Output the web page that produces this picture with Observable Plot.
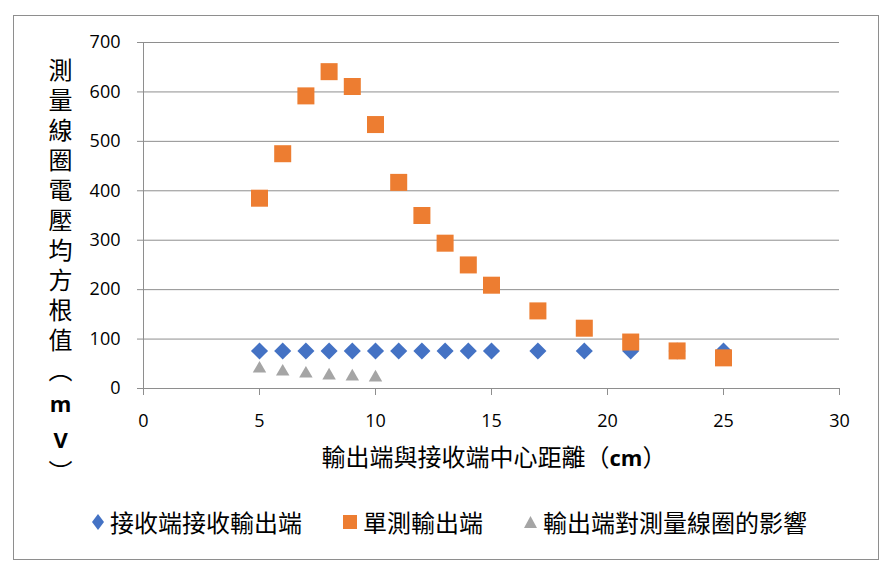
<!DOCTYPE html>
<html>
<head>
<meta charset="utf-8">
<script src="https://cdn.jsdelivr.net/npm/d3@7"></script>
<script src="https://cdn.jsdelivr.net/npm/@observablehq/plot@0.6"></script>
<style>
  html, body { margin: 0; padding: 0; background: #fff; }
  #wrap { position: relative; width: 893px; height: 571px; overflow: hidden; background: #fff; }
  #frame { position: absolute; left: 13px; top: 15px; width: 866px; height: 545px; border: 1px solid #8e8e8e; box-sizing: border-box; }
  #chart { position: absolute; left: 0; top: 0; }
  .cjk { font-family: "Noto Sans CJK TC", "Noto Sans", sans-serif; color: #000; }
  #ytitle { position: absolute; left: 47px; top: 58px; font-size: 24px; writing-mode: vertical-rl; text-orientation: upright; letter-spacing: 6px; line-height: 26px; }
  #ytitle b { font-family: "Open Sans", sans-serif; font-weight: 700; font-size: 22px; }
  #xtitle { position: absolute; left: 6px; width: 976px; top: 440px; text-align: center; font-size: 24px; line-height: 32px; white-space: nowrap; }
  #xtitle b { font-family: "Open Sans", sans-serif; font-weight: 700; font-size: 22px; }
  .leg { position: absolute; top: 506px; font-size: 24px; line-height: 32px; white-space: nowrap; display: flex; align-items: center; }
  .leg svg { margin-right: 6px; }
</style>
</head>
<body>
<div id="wrap">
  <div id="frame"></div>
  <div id="chart"></div>
  <div id="ytitle" class="cjk">測量線圈電壓均方根值（<b>mV</b>）</div>
  <div id="xtitle" class="cjk">輸出端與接收端中心距離（<b>cm</b>）</div>
  <div id="legend"></div>
</div>
<script>
// Data
const distances = [5, 6, 7, 8, 9, 10, 11, 12, 13, 14, 15, 17, 19, 21, 23, 25];
const receiverValues = [76, 76, 76, 76, 76, 76, 76, 76, 76, 76, 76, 76, 76, 76, 76, 76];
const singleValues = [385, 475, 592, 641, 611, 534, 417, 350, 294, 250, 209, 157, 122, 94, 76, 62];
const effectDistances = [5, 6, 7, 8, 9, 10];
const effectValues = [40, 34, 30, 26, 24, 22];
const seriesNames = ["接收端接收輸出端", "單測輸出端", "輸出端對測量線圈的影響"];
const seriesColors = ["#4472C4", "#ED7D31", "#A5A5A5"];
const xTicks = [0, 5, 10, 15, 20, 25, 30];
const yTicks = [0, 100, 200, 300, 400, 500, 600, 700];

const receiver = distances.map((d, i) => ({x: d, y: receiverValues[i]}));
const single = distances.map((d, i) => ({x: d, y: singleValues[i]}));
const effect = effectDistances.map((d, i) => ({x: d, y: effectValues[i]}));

const axisColor = "#8e8e8e";

const chart = Plot.plot({
  width: 893,
  height: 440,
  marginLeft: 143,
  marginRight: 54,
  marginTop: 42,
  marginBottom: 52,
  x: {domain: [0, 30]},
  y: {domain: [0, 700]},
  style: {fontFamily: "'Open Sans', sans-serif", fontSize: "18px", color: "#000", background: "transparent"},
  marks: [
    Plot.gridY(yTicks.filter(t => t > 0), {stroke: axisColor, strokeOpacity: 1, strokeWidth: 1}),
    Plot.ruleX([0], {stroke: axisColor, strokeWidth: 1}),
    Plot.ruleY([0], {stroke: axisColor, strokeWidth: 1}),
    Plot.axisY({ticks: yTicks, tickSize: 6, tickPadding: 17, label: null, stroke: axisColor, strokeOpacity: 1, fill: "#000"}),
    Plot.axisX({ticks: xTicks, tickSize: 7, tickPadding: 19, label: null, stroke: axisColor, strokeOpacity: 1, fill: "#000"}),
    Plot.dot(receiver, {x: "x", y: "y", symbol: "diamond2", r: 7.7, fill: seriesColors[0], stroke: "none"}),
    Plot.dot(single, {x: "x", y: "y", symbol: "square", r: 9.6, fill: seriesColors[1], stroke: "none"}),
    Plot.dot(effect, {x: "x", y: "y", symbol: "triangle", r: 5, fill: seriesColors[2], stroke: "none"})
  ]
});
document.getElementById("chart").appendChild(chart);

// Legend
const legend = document.getElementById("legend");
const legPos = [92, 343, 524];
const markerSvgs = [
  '<svg width="12" height="16" viewBox="0 0 12 16"><path d="M6 0 L12 8 L6 16 L0 8 Z" fill="' + seriesColors[0] + '"/></svg>',
  '<svg width="14" height="14" viewBox="0 0 14 14"><rect width="14" height="14" fill="' + seriesColors[1] + '"/></svg>',
  '<svg width="13" height="12" viewBox="0 0 13 12"><path d="M6.5 0 L13 12 L0 12 Z" fill="' + seriesColors[2] + '"/></svg>'
];
seriesNames.forEach((name, i) => {
  const item = document.createElement("div");
  item.className = "leg cjk";
  item.style.left = legPos[i] + "px";
  item.innerHTML = markerSvgs[i] + '<span>' + name + '</span>';
  legend.appendChild(item);
});
</script>
</body>
</html>
